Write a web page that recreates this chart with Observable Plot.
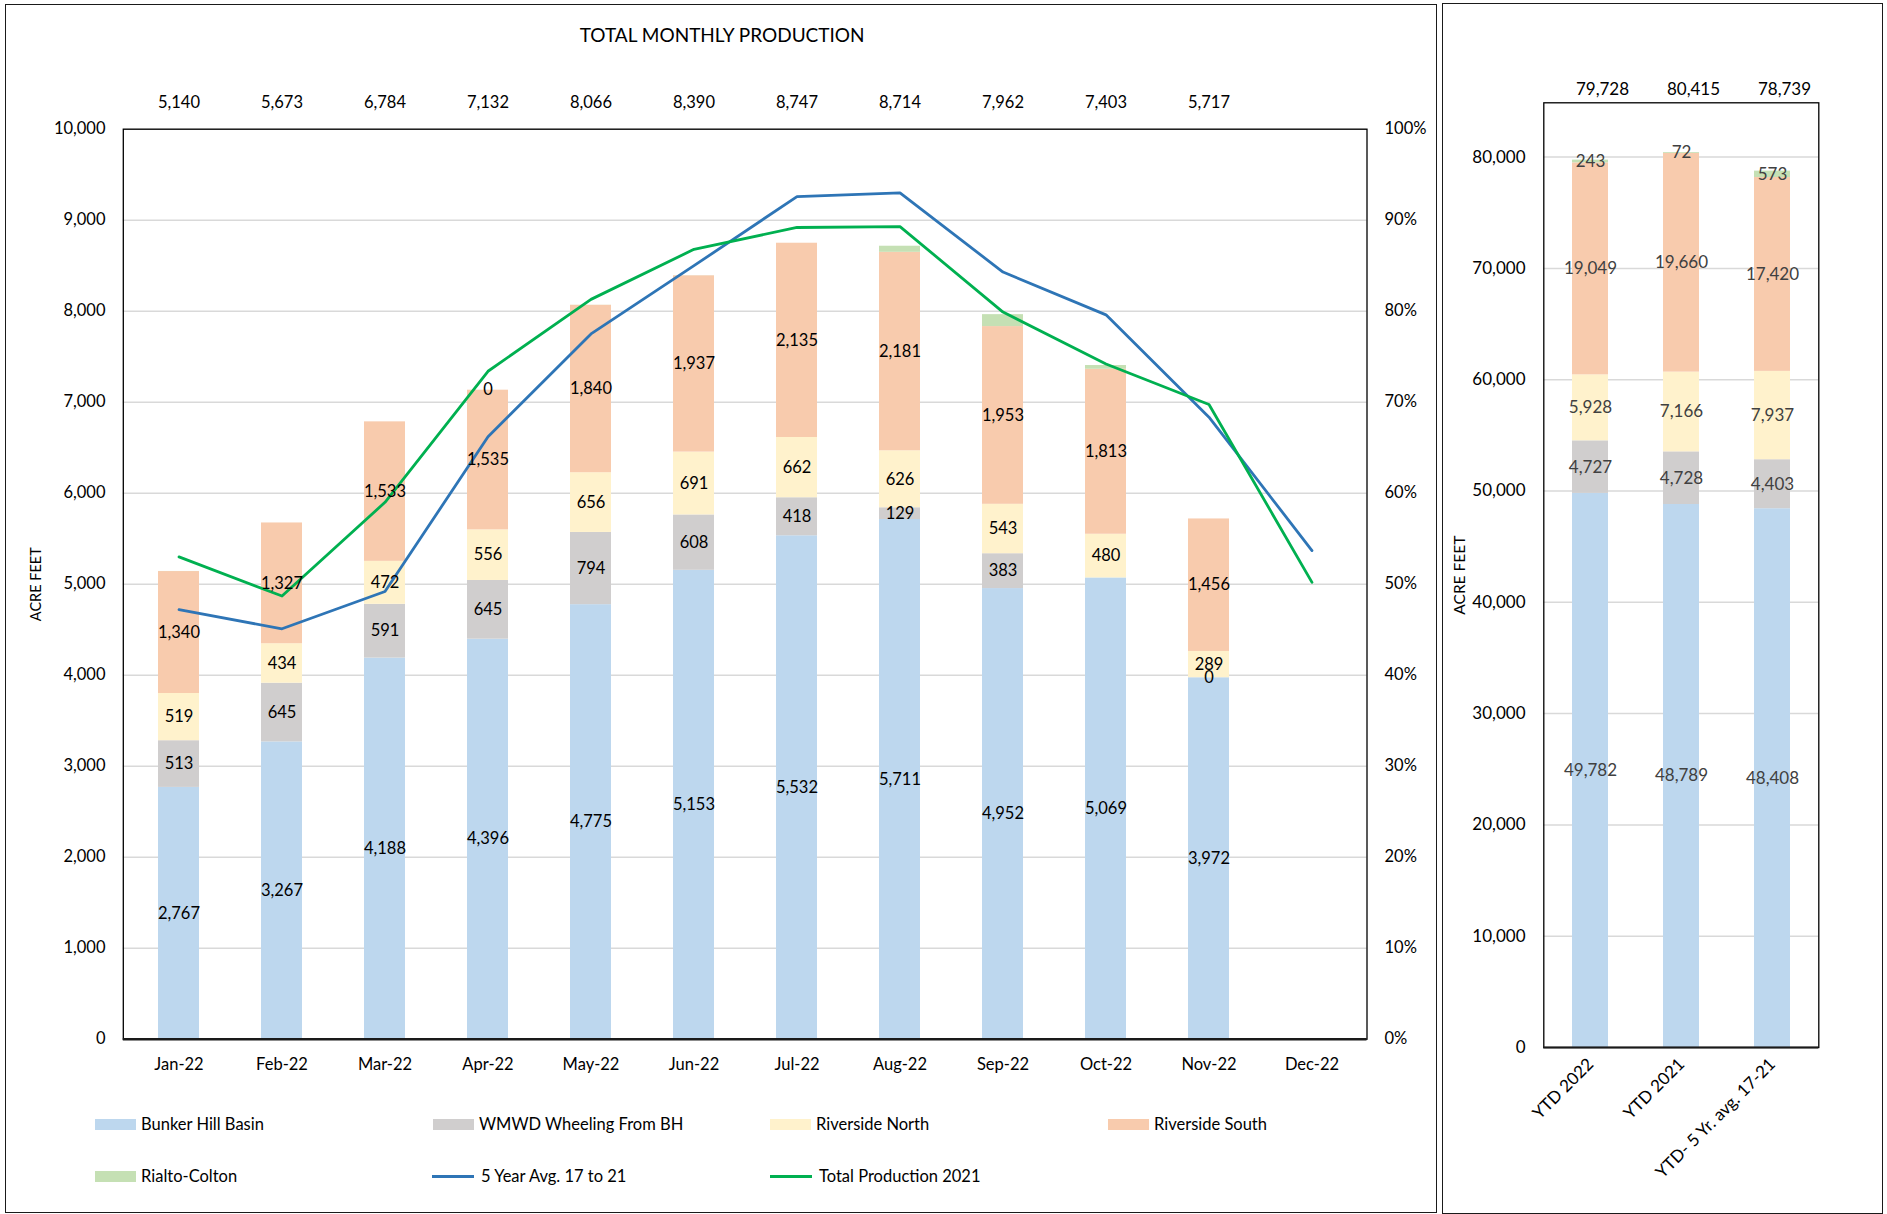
<!DOCTYPE html>
<html><head><meta charset="utf-8">
<script src="https://cdn.jsdelivr.net/npm/d3@7"></script>
<script src="https://cdn.jsdelivr.net/npm/@observablehq/plot@0.6"></script>
<style>
body{margin:0;background:#fff;}
#root{position:relative;width:1887px;height:1214px;font-family:Lato, sans-serif;overflow:hidden;background:#fff}
.box{position:absolute;border:1.8px solid #1a1a1a;box-sizing:border-box}
.chart{position:absolute;top:0}
.leg{position:absolute;display:flex;align-items:center;font-size:16.5px;color:#000;white-space:nowrap;height:20px}
.sw{width:41px;height:11px;margin-right:5px}
.ln{width:42px;height:3px;margin-right:7px}
</style></head><body><div id="root"></div>
<script>
// ---------- data ----------
const months = ["Jan-22","Feb-22","Mar-22","Apr-22","May-22","Jun-22","Jul-22","Aug-22","Sep-22","Oct-22","Nov-22","Dec-22"];
const bunkerHill     = [2767,3267,4188,4396,4775,5153,5532,5711,4952,5069,3972,null];
const wmwdWheeling   = [513,645,591,645,794,608,418,129,383,null,0,null];
const riversideNorth = [519,434,472,556,656,691,662,626,543,480,289,null];
const riversideSouth = [1340,1327,1533,1535,1840,1937,2135,2181,1953,1813,1456,null];
const rialtoColton   = [1,0,0,0,1,1,0,67,131,41,0,null];
const rialtoLabels   = [null,null,null,"0",null,null,null,null,null,null,null,null];
const monthlyTotals  = [5140,5673,6784,7132,8066,8390,8747,8714,7962,7403,5717,null];
const fiveYearAvg    = [4720,4510,4920,6620,7750,8500,9260,9300,8430,7960,6835,5370];
const totalProd2021  = [5300,4870,5900,7340,8130,8680,8920,8930,7990,7420,6975,5020];

const seriesNames  = ["Bunker Hill Basin","WMWD Wheeling From BH","Riverside North","Riverside South","Rialto-Colton"];
const seriesColors = ["#BDD7EE","#D0CECE","#FFF2CC","#F8CBAD","#C5E0B4"];
const lineNames    = ["5 Year Avg. 17 to 21","Total Production 2021"];
const lineColors   = ["#2E75B6","#00B050"];

const ytdCats       = ["YTD 2022","YTD 2021","YTD- 5 Yr. avg. 17-21"];
const ytdBunker     = [49782,48789,48408];
const ytdWmwd       = [4727,4728,4403];
const ytdRivNorth   = [5928,7166,7937];
const ytdRivSouth   = [19049,19660,17420];
const ytdRialto     = [243,72,573];
const ytdTotals     = [79728,80415,78739];

const leftTicks  = d3.range(0, 10001, 1000);
const rightTicks = d3.range(0, 80001, 10000);

// ---------- tables ----------
const fmt = d3.format(",");
const monthlyRows = [];
months.forEach((m, i) => {
  [bunkerHill, wmwdWheeling, riversideNorth, riversideSouth, rialtoColton].forEach((arr, k) => {
    const v = arr[i];
    if (v == null) return;
    const label = k === 4 ? rialtoLabels[i] : fmt(v);
    monthlyRows.push({month: m, series: seriesNames[k], value: v, label});
  });
});
const lineRows = [];
months.forEach((m, i) => {
  lineRows.push({month: m, series: lineNames[0], value: fiveYearAvg[i]});
});
months.forEach((m, i) => {
  lineRows.push({month: m, series: lineNames[1], value: totalProd2021[i]});
});
const totalRows = months.map((m, i) => ({month: m, total: monthlyTotals[i]})).filter(d => d.total != null);

const ytdRows = [];
ytdCats.forEach((c, i) => {
  [ytdBunker, ytdWmwd, ytdRivNorth, ytdRivSouth, ytdRialto].forEach((arr, k) => {
    ytdRows.push({cat: c, series: seriesNames[k], value: arr[i], label: fmt(arr[i])});
  });
});
const ytdTotalRows = ytdCats.map((c, i) => ({cat: c, total: ytdTotals[i]}));

const root = document.getElementById("root");

// ---------- left chart ----------
const left = Plot.plot({
  width: 1436, height: 1100,
  marginLeft: 122.8, marginRight: 69.5, marginTop: 128.7, marginBottom: 61.3,
  style: {fontFamily: "Lato, sans-serif", fontSize: "16.5px", color: "#000", background: "transparent"},
  x: {domain: months, paddingInner: 0.6, paddingOuter: 0.3, label: null},
  y: {domain: [0, 10000], label: null},
  color: {domain: seriesNames, range: seriesColors},
  marks: [
    Plot.gridY(leftTicks, {stroke: "#D9D9D9", strokeOpacity: 1, strokeWidth: 1.5}),
    Plot.barY(monthlyRows, {x: "month", y: "value", fill: "series"}),
    Plot.line(lineRows, {x: "month", y: "value", z: "series", stroke: d => d.series === lineNames[0] ? lineColors[0] : lineColors[1], strokeWidth: 2.8}),
    Plot.text(monthlyRows, Plot.stackY({x: "month", y: "value", text: "label", fill: "#000", fontSize: 16.5})),
    Plot.axisY({ticks: leftTicks, tickFormat: fmt, tickSize: 0, tickPadding: 17.8, label: null, fontSize: 16.5}),
    Plot.axisY({anchor: "right", ticks: leftTicks, tickFormat: d => (d / 100) + "%", tickSize: 0, tickPadding: 17.5, label: null, fontSize: 16.5}),
    Plot.axisX({tickSize: 0, tickPadding: 19, label: null, fontSize: 16.5}),
    Plot.frame({stroke: "#000", strokeWidth: 1.3}),
    Plot.ruleY([0], {stroke: "#1a1a1a", strokeWidth: 2.4}),
    Plot.text(totalRows, {x: "month", text: d => fmt(d.total), frameAnchor: "top", lineAnchor: "middle", dy: -26.4, fontSize: 16.5}),
    Plot.text(["TOTAL MONTHLY PRODUCTION"], {text: d => d, frameAnchor: "top", lineAnchor: "middle", textAnchor: "middle", dy: -93.7, dx: -23, fontSize: 19}),
    Plot.text(["ACRE FEET"], {text: d => d, frameAnchor: "left", textAnchor: "middle", lineAnchor: "middle", dx: -86.8, rotate: -90, fontSize: 14.5})
  ]
});
left.classList.add("chart");
left.style.left = "0px";

// ---------- right chart ----------
const right = Plot.plot({
  width: 440, height: 1214,
  marginLeft: 101.3, marginRight: 63.7, marginTop: 102.3, marginBottom: 167,
  style: {fontFamily: "Lato, sans-serif", fontSize: "17px", color: "#000", background: "transparent"},
  x: {domain: ytdCats, paddingInner: 0.6, paddingOuter: 0.3, label: null},
  y: {domain: [0, 84880], label: null},
  color: {domain: seriesNames, range: seriesColors},
  marks: [
    Plot.gridY(rightTicks, {stroke: "#D9D9D9", strokeOpacity: 1, strokeWidth: 1.5}),
    Plot.barY(ytdRows, {x: "cat", y: "value", fill: "series"}),
    Plot.text(ytdRows, Plot.stackY({x: "cat", y: "value", text: "label", fill: "#404040", fontSize: 17})),
    Plot.axisY({ticks: rightTicks, tickFormat: fmt, tickSize: 0, tickPadding: 18.3, label: null, fontSize: 17}),
    Plot.axisX({tickSize: 0, tickPadding: 14, tickRotate: -45, label: null, fontSize: 17}),
    Plot.frame({stroke: "#000", strokeWidth: 1.3}),
    Plot.ruleY([0], {stroke: "#1a1a1a", strokeWidth: 2.2}),
    Plot.text(ytdTotalRows, {x: "cat", text: d => fmt(d.total), frameAnchor: "top", lineAnchor: "middle", dy: -13.3, dx: 12, fontSize: 17}),
    Plot.text(["ACRE FEET"], {text: d => d, frameAnchor: "left", textAnchor: "middle", lineAnchor: "middle", dx: -83.3, rotate: -90, fontSize: 15.5})
  ]
});
right.classList.add("chart");
right.style.left = "1442px";

// frames
const box1 = document.createElement("div");
box1.className = "box";
Object.assign(box1.style, {left: "5px", top: "4px", width: "1432px", height: "1209px"});
const box2 = document.createElement("div");
box2.className = "box";
Object.assign(box2.style, {left: "1442px", top: "3px", width: "441px", height: "1211px"});

root.appendChild(left);
root.appendChild(right);
root.appendChild(box1);
root.appendChild(box2);

// ---------- legend ----------
const legendItems = [
  {name: seriesNames[0], color: seriesColors[0], type: "sw", x: 95, y: 1124},
  {name: seriesNames[1], color: seriesColors[1], type: "sw", x: 433, y: 1124},
  {name: seriesNames[2], color: seriesColors[2], type: "sw", x: 770, y: 1124},
  {name: seriesNames[3], color: seriesColors[3], type: "sw", x: 1108, y: 1124},
  {name: seriesNames[4], color: seriesColors[4], type: "sw", x: 95, y: 1176},
  {name: lineNames[0], color: lineColors[0], type: "ln", x: 432, y: 1176},
  {name: lineNames[1], color: lineColors[1], type: "ln", x: 770, y: 1176}
];
legendItems.forEach(it => {
  const d = document.createElement("div");
  d.className = "leg";
  d.style.left = it.x + "px";
  d.style.top = (it.y - 10) + "px";
  const s = document.createElement("span");
  s.className = it.type;
  s.style.background = it.color;
  const t = document.createElement("span");
  t.textContent = it.name;
  d.appendChild(s); d.appendChild(t);
  root.appendChild(d);
});
</script></body></html>
